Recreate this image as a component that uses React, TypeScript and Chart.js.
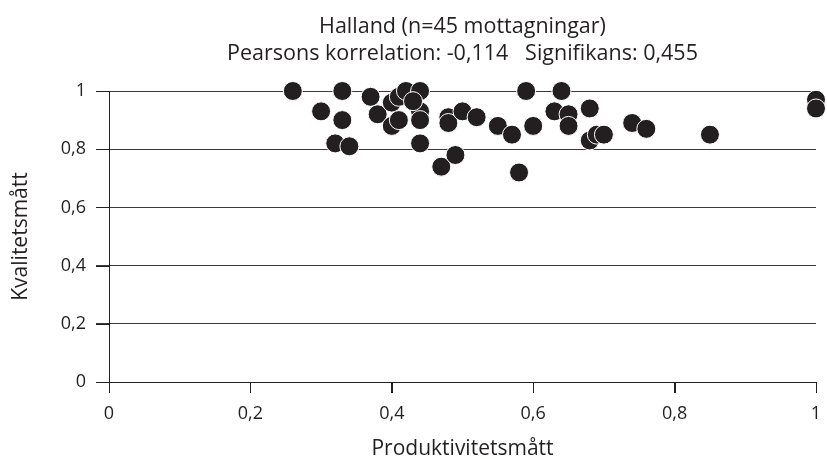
import React, { useEffect, useRef } from "react";
import { Chart, registerables } from "chart.js";

Chart.register(...registerables);

const titleLines = [
  "Halland (n=45 mottagningar)",
  "Pearsons korrelation: -0,114   Signifikans: 0,455",
];
const xAxisTitle = "Produktivitetsmått";
const yAxisTitle = "Kvalitetsmått";
const xTickLabels = ["0", "0,2", "0,4", "0,6", "0,8", "1"];
const yTickLabels = ["0", "0,2", "0,4", "0,6", "0,8", "1"];

const produktivitet = [
  0.26, 0.33, 0.30, 0.33, 0.32, 0.34, 0.37, 0.38, 0.40, 0.41, 0.42, 0.44, 0.40, 0.41,
  0.44, 0.44, 0.44, 0.43, 0.47, 0.48, 0.48, 0.50, 0.52, 0.49, 0.55, 0.57, 0.59, 0.58,
  0.60, 0.63, 0.64, 0.65, 0.65, 0.68, 0.68, 0.69, 0.70, 0.74, 0.76, 0.85, 1.0, 1.0,
];
const kvalitet = [
  1.0, 1.0, 0.93, 0.90, 0.82, 0.81, 0.98, 0.92, 0.96, 0.98, 1.0, 1.0, 0.88, 0.90,
  0.93, 0.90, 0.82, 0.965, 0.74, 0.91, 0.89, 0.93, 0.91, 0.78, 0.88, 0.85, 1.0, 0.72,
  0.88, 0.93, 1.0, 0.92, 0.88, 0.94, 0.83, 0.85, 0.85, 0.89, 0.87, 0.85, 0.97, 0.94,
];

const FONT = "'Open Sans', 'Noto Sans', sans-serif";
const INK = "#231f20";

export default function App() {
  const ref = useRef<HTMLCanvasElement | null>(null);

  useEffect(() => {
    if (!ref.current) return;
    const points = produktivitet.map((x, i) => ({ x, y: kvalitet[i] }));

    const titlePlugin = {
      id: "twoLineTitle",
      afterDraw(chart: any) {
        const ctx = chart.ctx;
        const area = chart.chartArea;
        const cx = (area.left + area.right) / 2;
        ctx.save();
        ctx.fillStyle = INK;
        ctx.font = `21.5px ${FONT}`;
        ctx.textAlign = "center";
        ctx.textBaseline = "alphabetic";
        ctx.fillText(titleLines[0], cx, 33);
        ctx.fillText(titleLines[1], cx, 60);
        ctx.restore();
      },
    };

    const tickMarkPlugin = {
      id: "tickMarks",
      beforeDatasetsDraw(chart: any) {
        const ctx = chart.ctx;
        const xs = chart.scales.x;
        const ys = chart.scales.y;
        const area = chart.chartArea;
        ctx.save();
        ctx.strokeStyle = INK;
        ctx.lineWidth = 1;
        ctx.beginPath();
        xs.ticks.forEach((t: any) => {
          const px = Math.round(xs.getPixelForValue(t.value)) + 0.5;
          ctx.moveTo(px, area.bottom);
          ctx.lineTo(px, area.bottom + 11);
        });
        ys.ticks.forEach((t: any) => {
          const py = Math.round(ys.getPixelForValue(t.value)) + 0.5;
          ctx.moveTo(area.left - 13, py);
          ctx.lineTo(area.left, py);
        });
        ctx.stroke();
        ctx.restore();
      },
    };

    const chart = new Chart(ref.current, {
      type: "scatter",
      data: {
        datasets: [
          {
            data: points,
            backgroundColor: INK,
            borderColor: "#ffffff",
            borderWidth: 1,
            pointRadius: 9.5,
            pointHoverRadius: 9.5,
            clip: false,
          },
        ],
      },
      plugins: [tickMarkPlugin, titlePlugin],
      options: {
        responsive: false,
        animation: false,
        devicePixelRatio: 1,
        layout: { padding: { top: 91, right: 11, left: 0, bottom: 0 }, autoPadding: false },
        plugins: {
          legend: { display: false },
          title: { display: false },
          tooltip: { enabled: false },
        },
        scales: {
          x: {
            type: "linear",
            min: 0,
            max: 1,
            afterFit(scale: any) {
              scale.height = 78;
              scale.paddingLeft = 0;
              scale.paddingRight = 0;
            },
            ticks: {
              stepSize: 0.2,
              color: INK,
              padding: 10,
              maxRotation: 0,
              font: { family: FONT, size: 18 },
              callback: (_v: any, i: number) => xTickLabels[i],
            },
            grid: {
              drawOnChartArea: false,
              drawTicks: true,
              tickLength: 11,
              color: INK,
              lineWidth: 1,
            },
            border: { display: true, color: INK, width: 1 },
            title: {
              display: true,
              text: xAxisTitle,
              color: INK,
              font: { family: FONT, size: 21, lineHeight: 1 },
              padding: { top: 0, bottom: 0 },
            },
          },
          y: {
            type: "linear",
            min: 0,
            max: 1,
            afterFit(scale: any) {
              scale.width = 109;
              scale.paddingTop = 0;
              scale.paddingBottom = 0;
            },
            ticks: {
              stepSize: 0.2,
              color: INK,
              padding: 10,
              font: { family: FONT, size: 18 },
              callback: (_v: any, i: number) => yTickLabels[i],
            },
            grid: {
              drawOnChartArea: true,
              drawTicks: true,
              tickLength: 13,
              color: "#3a3a3a",
              lineWidth: 1,
            },
            border: { display: true, color: INK, width: 1 },
            title: {
              display: true,
              text: yAxisTitle,
              color: INK,
              font: { family: FONT, size: 21, lineHeight: 1 },
              padding: { top: 11, bottom: 0 },
            },
          },
        },
      },
    } as any);

    return () => chart.destroy();
  }, []);

  return (
    <div style={{ position: "fixed", left: 0, top: 0, width: 827, height: 460, background: "#fff" }}>
      <canvas ref={ref} width={827} height={460} style={{ width: 827, height: 460 }} />
    </div>
  );
}
